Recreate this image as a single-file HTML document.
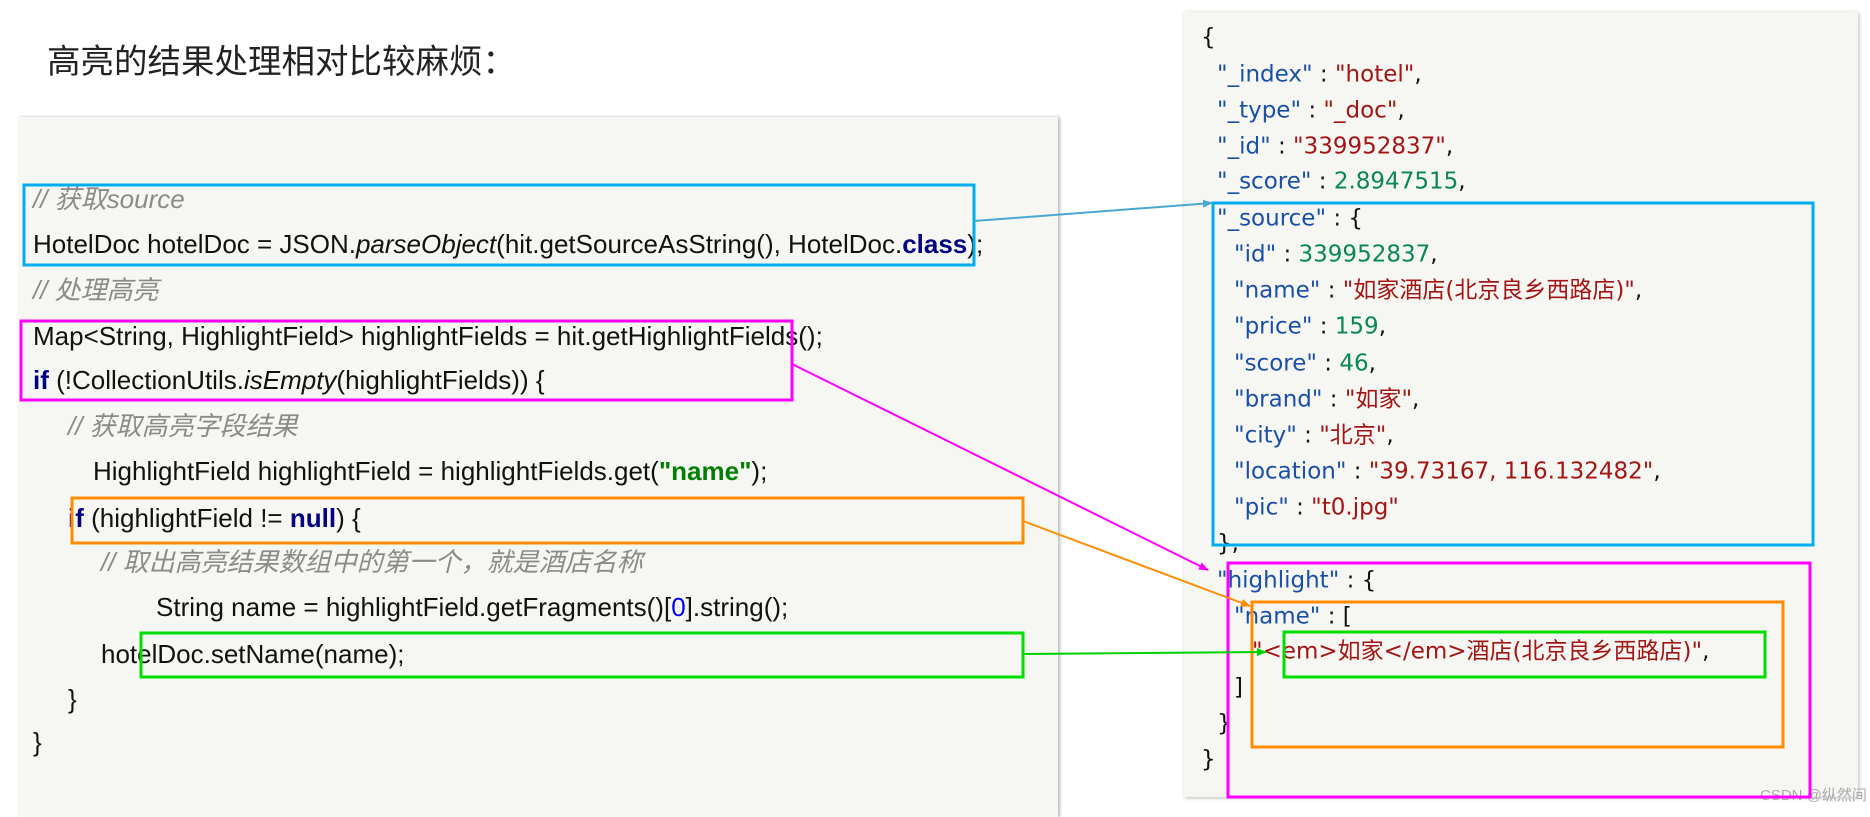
<!DOCTYPE html>
<html><head><meta charset="utf-8"><style>
body{margin:0;width:1870px;height:812px;background:#fff;position:relative;overflow:hidden;font-family:"Liberation Sans","Noto Sans CJK SC",sans-serif}
.t{position:absolute;white-space:pre;line-height:1}
#title{left:47px;top:46px;font-size:33.5px;color:#222}
#lp{position:absolute;left:18px;top:117px;width:1040px;height:700px;background:#f6f7f3;box-shadow:2px 0 3px #bbb}
#rp{position:absolute;left:1184px;top:12px;width:674px;height:785px;background:#f6f7f3;box-shadow:1px 1px 4px #bbb}
.c{font-size:26px;color:#111;transform:translateY(-50%)}
.cm{color:#8a8a8a;font-style:italic}
.kw{color:#000080;font-weight:bold}
.g{color:#008000;font-weight:bold}
.b{color:#0000ff}
.j{font-family:"DejaVu Sans","Noto Sans CJK SC",sans-serif;font-size:23px;color:#111;transform:translateY(-50%)}
.k{color:#1a4fa8}.s{color:#a31515}.n{color:#098658}
svg{position:absolute;left:0;top:0}
</style></head><body>
<div class="t" id="title">高亮的结果处理相对比较麻烦：</div>
<div id="lp"></div>
<div id="rp"></div>
<div class="t c cm" style="left:33px;top:199px">// 获取source</div>
<div class="t c" style="left:33px;top:244px">HotelDoc hotelDoc = JSON.<i>parseObject</i>(hit.getSourceAsString(), HotelDoc.<span class="kw">class</span>);</div>
<div class="t c cm" style="left:33px;top:290px">// 处理高亮</div>
<div class="t c" style="left:33px;top:336px">Map&lt;String, HighlightField&gt; highlightFields = hit.getHighlightFields();</div>
<div class="t c" style="left:33px;top:380px"><span class="kw">if</span> (!CollectionUtils.<i>isEmpty</i>(highlightFields)) {</div>
<div class="t c cm" style="left:68px;top:426px">// 获取高亮字段结果</div>
<div class="t c" style="left:93px;top:471px">HighlightField highlightField = highlightFields.get(<span class="g">"name"</span>);</div>
<div class="t c" style="left:68px;top:518px"><span class="kw">if</span> (highlightField != <span class="kw">null</span>) {</div>
<div class="t c cm" style="left:101px;top:562px">// 取出高亮结果数组中的第一个，就是酒店名称</div>
<div class="t c" style="left:156px;top:607px">String name = highlightField.getFragments()[<span class="b">0</span>].string();</div>
<div class="t c" style="left:101px;top:654px">hotelDoc.setName(name);</div>
<div class="t c" style="left:68px;top:699px">}</div>
<div class="t c" style="left:33px;top:742px">}</div>

<div class="t j" style="left:1201px;top:38px">{</div>
<div class="t j" style="left:1217px;top:75px"><span class="k">"_index"</span> : <span class="s">"hotel"</span>,</div>
<div class="t j" style="left:1217px;top:111px"><span class="k">"_type"</span> : <span class="s">"_doc"</span>,</div>
<div class="t j" style="left:1217px;top:147px"><span class="k">"_id"</span> : <span class="s">"339952837"</span>,</div>
<div class="t j" style="left:1217px;top:182px"><span class="k">"_score"</span> : <span class="n">2.8947515</span>,</div>
<div class="t j" style="left:1217px;top:219px"><span class="k">"_source"</span> : {</div>
<div class="t j" style="left:1234px;top:255px"><span class="k">"id"</span> : <span class="n">339952837</span>,</div>
<div class="t j" style="left:1234px;top:291px"><span class="k">"name"</span> : <span class="s">"如家酒店(北京良乡西路店)"</span>,</div>
<div class="t j" style="left:1234px;top:327px"><span class="k">"price"</span> : <span class="n">159</span>,</div>
<div class="t j" style="left:1234px;top:364px"><span class="k">"score"</span> : <span class="n">46</span>,</div>
<div class="t j" style="left:1234px;top:400px"><span class="k">"brand"</span> : <span class="s">"如家"</span>,</div>
<div class="t j" style="left:1234px;top:436px"><span class="k">"city"</span> : <span class="s">"北京"</span>,</div>
<div class="t j" style="left:1234px;top:472px"><span class="k">"location"</span> : <span class="s">"39.73167, 116.132482"</span>,</div>
<div class="t j" style="left:1234px;top:508px"><span class="k">"pic"</span> : <span class="s">"t0.jpg"</span></div>
<div class="t j" style="left:1217px;top:544px">},</div>
<div class="t j" style="left:1217px;top:581px"><span class="k">"highlight"</span> : {</div>
<div class="t j" style="left:1234px;top:617px"><span class="k">"name"</span> : [</div>
<div class="t j" style="left:1252px;top:652px"><span class="s">"&lt;em&gt;如家&lt;/em&gt;酒店(北京良乡西路店)"</span>,</div>
<div class="t j" style="left:1234px;top:688px">]</div>
<div class="t j" style="left:1217px;top:724px">}</div>
<div class="t j" style="left:1201px;top:760px">}</div>
<div class="t" style="left:1760px;top:788px;font-size:15px;color:#aaa">CSDN @纵然间</div>

<svg width="1870" height="812">
<defs>
<marker id="ab" markerWidth="10" markerHeight="8" refX="9" refY="4" orient="auto" markerUnits="userSpaceOnUse"><path d="M0,0L10,4L0,8z" fill="#4aa8d0"/></marker>
<marker id="am" markerWidth="10" markerHeight="8" refX="9" refY="4" orient="auto" markerUnits="userSpaceOnUse"><path d="M0,0L10,4L0,8z" fill="#ff00ff"/></marker>
<marker id="ao" markerWidth="10" markerHeight="8" refX="9" refY="4" orient="auto" markerUnits="userSpaceOnUse"><path d="M0,0L10,4L0,8z" fill="#ff8c00"/></marker>
<marker id="ag" markerWidth="10" markerHeight="8" refX="9" refY="4" orient="auto" markerUnits="userSpaceOnUse"><path d="M0,0L10,4L0,8z" fill="#00d000"/></marker>
</defs>
<g fill="none" stroke-width="3">
<rect x="24" y="185" width="950" height="80" stroke="#00aeef"/>
<rect x="21" y="321" width="771" height="79" stroke="#ff00ff"/>
<rect x="72" y="498" width="951" height="45" stroke="#ff8c00"/>
<rect x="141" y="633" width="882" height="44" stroke="#00dd00"/>
<rect x="1213" y="203" width="600" height="342" stroke="#00aeef"/>
<rect x="1228" y="563" width="582" height="234" stroke="#ff00ff"/>
<rect x="1252" y="602" width="531" height="145" stroke="#ff8c00"/>
<rect x="1284" y="632" width="481" height="45" stroke="#00dd00"/>
</g>
<g stroke-width="2" fill="none">
<line x1="974" y1="221" x2="1212" y2="203" stroke="#4aa8d0" marker-end="url(#ab)"/>
<line x1="792" y1="364" x2="1208" y2="570" stroke="#ff00ff" marker-end="url(#am)"/>
<line x1="1023" y1="521" x2="1250" y2="606" stroke="#ff8c00" marker-end="url(#ao)"/>
<line x1="1023" y1="654" x2="1266" y2="652" stroke="#00d000" marker-end="url(#ag)"/>
</g>
</svg>
</body></html>
